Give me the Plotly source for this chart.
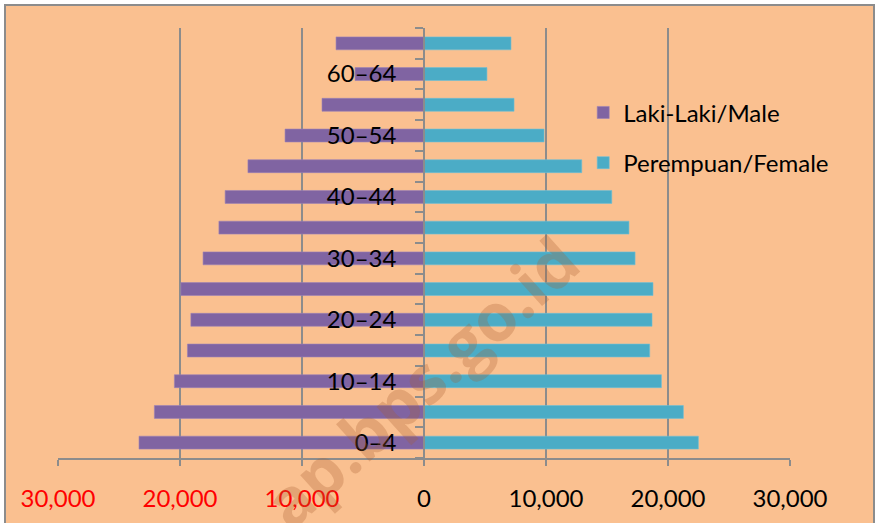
import plotly.graph_objects as go

age_groups = ["0–4", "5–9", "10–14", "15–19", "20–24", "25–29", "30–34",
              "35–39", "40–44", "45–49", "50–54", "55–59", "60–64", "65+"]
male = [23360, 22100, 20460, 19390, 19110, 19930, 18110,
        16810, 16300, 14430, 11390, 8360, 5650, 7210]
female = [22490, 21260, 19460, 18500, 18690, 18770, 17300,
          16800, 15390, 12930, 9840, 7380, 5160, 7130]
x_ticks = [-30000, -20000, -10000, 0, 10000, 20000, 30000]
x_ticktext = ['<span style="color:#FF0000">30,000</span>',
              '<span style="color:#FF0000">20,000</span>',
              '<span style="color:#FF0000">10,000</span>',
              "0", "10,000", "20,000", "30,000"]

idx = list(range(len(age_groups)))
label_idx = idx[::2]
label_text = age_groups[::2]

BG = "#FAC090"
PURPLE = "#8064A2"
TEAL = "#4BACC6"
GRID = "#8C8C8C"
FONT = "Lato"

# figure is placed at (4, 4) in the page
OFF = 4
W, H = 875 - OFF, 523 - OFF
ML, MT = 58 - OFF, 28 - OFF
PW, PH = 732, 430

fig = go.Figure()
fig.add_trace(go.Bar(
    y=idx, x=[-v for v in male], orientation="h", name="Laki-Laki/Male",
    marker=dict(color=PURPLE, line=dict(color="#9A82B8", width=0.6)),
    width=0.42, legendgroup="m",
))
fig.add_trace(go.Bar(
    y=idx, x=female, orientation="h", name="Perempuan/Female",
    marker=dict(color=TEAL, line=dict(color="#6FC0D6", width=0.6)),
    width=0.42, legendgroup="f",
))

fig.update_layout(
    width=W, height=H,
    margin=dict(l=ML, r=W - ML - PW, t=MT, b=H - MT - PH, pad=0),
    paper_bgcolor=BG, plot_bgcolor=BG,
    barmode="overlay",
    font=dict(family=FONT, size=24, color="#000000"),
    legend=dict(x=0.7175, y=0.855, xanchor="left", yanchor="top",
                bgcolor="rgba(0,0,0,0)", traceorder="grouped",
                tracegroupgap=16, font=dict(family=FONT, size=24)),
    xaxis=dict(
        range=[-30000, 30000], tickvals=x_ticks, ticktext=x_ticktext,
        showgrid=True, gridcolor=GRID, gridwidth=1.5,
        zeroline=False, showline=True, linecolor=GRID, linewidth=1.5,
        ticks="outside", ticklen=6, tickcolor=GRID, tickwidth=1.5,
        ticklabelstandoff=12, fixedrange=True,
    ),
    yaxis=dict(
        range=[-0.5, len(age_groups) - 0.5],
        tickvals=label_idx, ticktext=label_text,
        anchor="free", position=0.5, side="left",
        showgrid=False, zeroline=False,
        showline=True, linecolor=GRID, linewidth=1.5,
        ticks="", ticklabelstandoff=22,
        minor=dict(tickvals=[i - 0.5 for i in idx] + [len(idx) - 0.5],
                   ticks="outside", ticklen=8, tickcolor=GRID, tickwidth=1.5),
        fixedrange=True,
    ),
    showlegend=True,
)

# outer chart border (figure coords: left/top at 1px, right at W-1)
fig.add_shape(type="rect", xref="paper", yref="paper",
              x0=(1 - ML) / PW, x1=(W - 1 - ML) / PW,
              y0=(MT + PH - (H + 20)) / PH, y1=(MT + PH - 1) / PH,
              line=dict(color="#8C8C8C", width=2), fillcolor="rgba(0,0,0,0)",
              layer="below")

# watermark
fig.add_annotation(text="<b>ap.bps.go.id</b>", xref="paper", yref="paper",
                   x=(420 - 58) / PW, y=(458 - 381) / PH,
                   xanchor="center", yanchor="middle",
                   showarrow=False, textangle=-42,
                   font=dict(family="Open Sans", size=66,
                             color="rgba(170,95,45,0.28)"))

fig.write_html(
    "out.html",
    config={"displayModeBar": False},
    post_script=("document.documentElement.style.overflow='hidden';"
                 "document.body.style.margin='0';"
                 "document.body.style.padding='4px 0 0 4px';"
                 "document.body.style.overflow='hidden';"),
)
